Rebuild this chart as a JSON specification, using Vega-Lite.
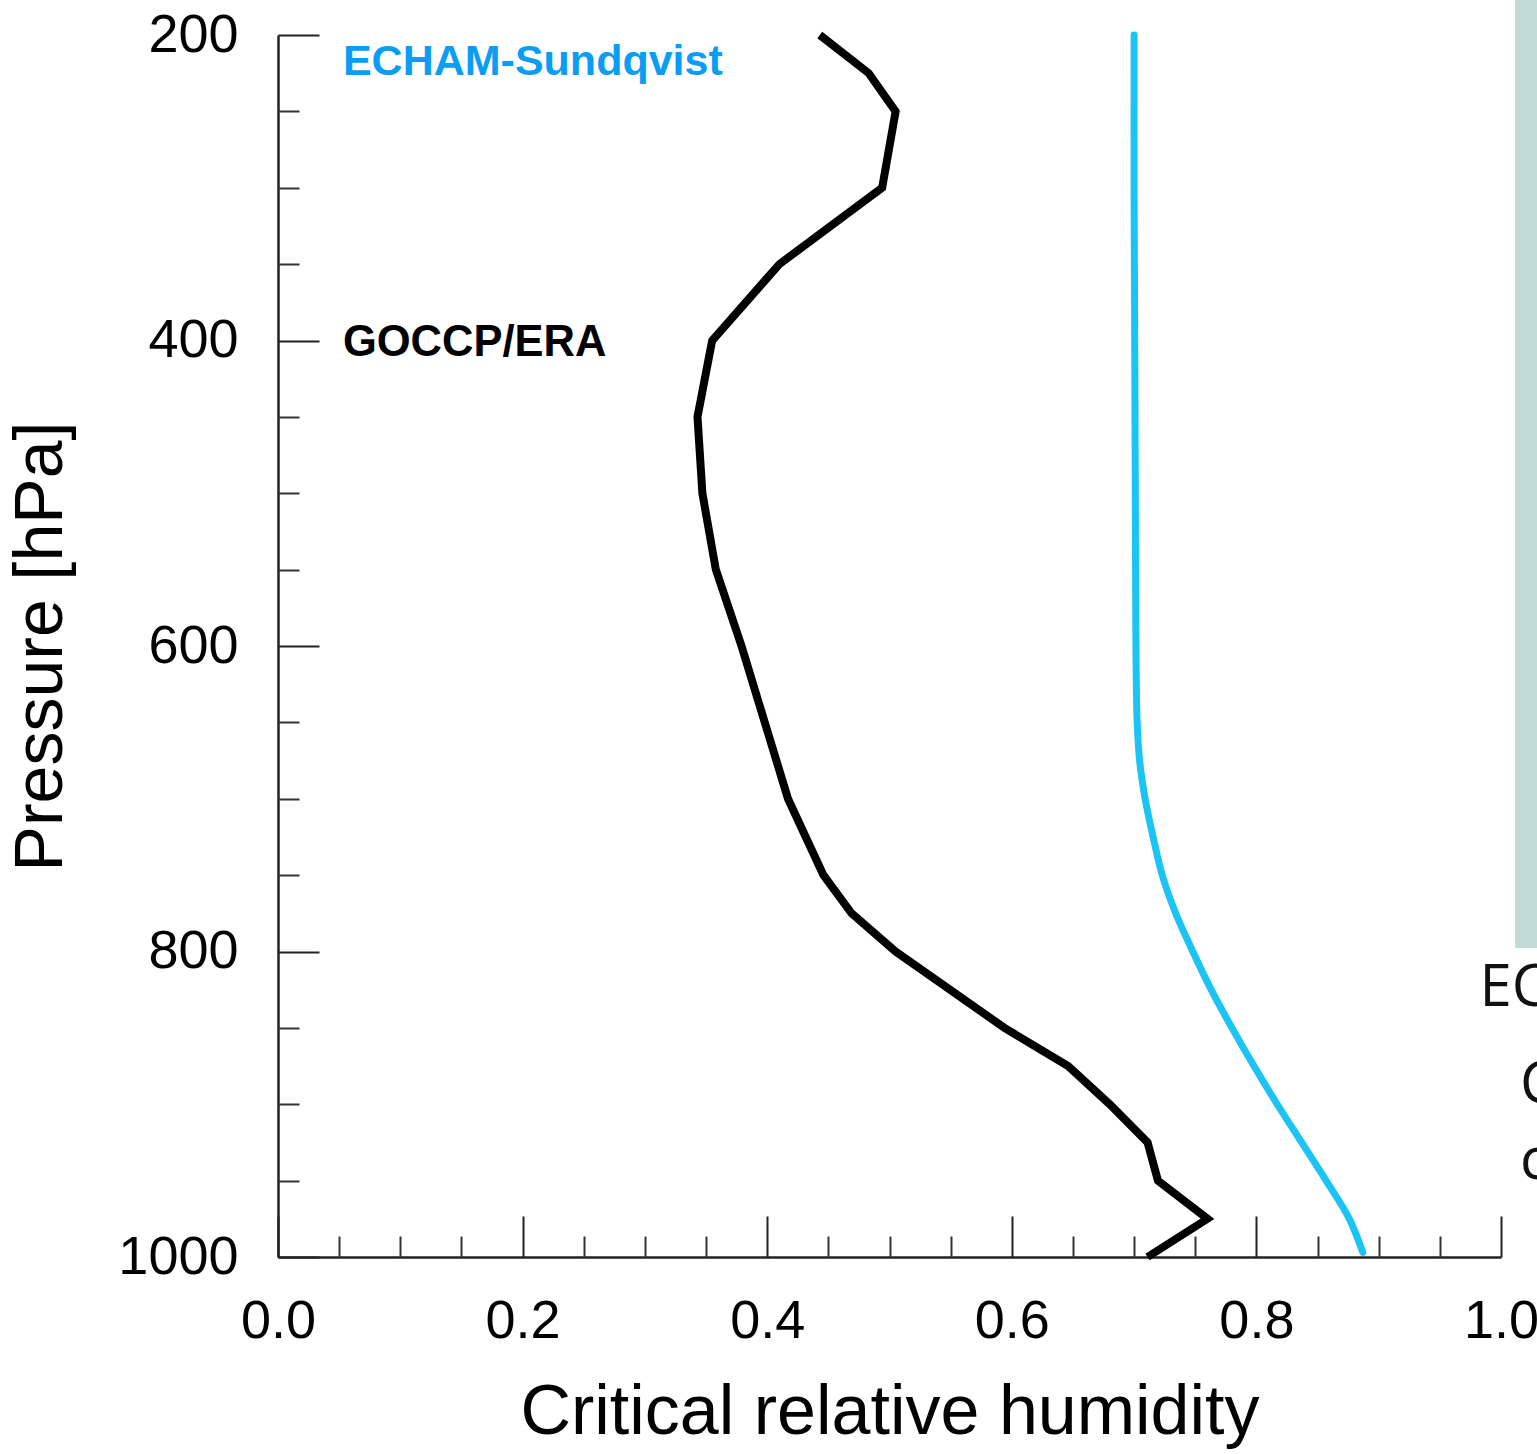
{
  "$schema": "https://vega.github.io/schema/vega-lite/v6.json",
  "width": 1223,
  "height": 1222,
  "autosize": {"type": "none"},
  "padding": {"left": 278, "top": 35, "right": 36, "bottom": 197},
  "background": "white",
  "config": {
    "view": {"stroke": null},
    "font": "Liberation Sans",
    "axis": {"grid": false, "labelFont": "Liberation Sans", "titleFont": "Liberation Sans", "labelColor": "black", "titleColor": "black", "titleFontWeight": "normal"}
  },
  "datasets": {
    "goccp": [
      {"p": 200, "rh": 0.443}, {"p": 225, "rh": 0.483}, {"p": 250, "rh": 0.505},
      {"p": 300, "rh": 0.494}, {"p": 350, "rh": 0.410}, {"p": 400, "rh": 0.355},
      {"p": 450, "rh": 0.343}, {"p": 500, "rh": 0.347}, {"p": 550, "rh": 0.358},
      {"p": 600, "rh": 0.379}, {"p": 650, "rh": 0.398}, {"p": 700, "rh": 0.417},
      {"p": 750, "rh": 0.446}, {"p": 775, "rh": 0.469}, {"p": 800, "rh": 0.505},
      {"p": 850, "rh": 0.594}, {"p": 875, "rh": 0.646}, {"p": 900, "rh": 0.680},
      {"p": 925, "rh": 0.711}, {"p": 950, "rh": 0.7195}, {"p": 975, "rh": 0.760},
      {"p": 1000, "rh": 0.711}
    ],
    "echam": [
      {"p": 200, "rh": 0.700}, {"p": 300, "rh": 0.700}, {"p": 400, "rh": 0.7005},
      {"p": 500, "rh": 0.701}, {"p": 550, "rh": 0.7012}, {"p": 600, "rh": 0.7015},
      {"p": 625, "rh": 0.7018}, {"p": 650, "rh": 0.7025}, {"p": 675, "rh": 0.7045},
      {"p": 700, "rh": 0.709}, {"p": 725, "rh": 0.7155}, {"p": 750, "rh": 0.723},
      {"p": 775, "rh": 0.734}, {"p": 800, "rh": 0.748}, {"p": 825, "rh": 0.763},
      {"p": 850, "rh": 0.780}, {"p": 875, "rh": 0.798}, {"p": 900, "rh": 0.817},
      {"p": 925, "rh": 0.837}, {"p": 950, "rh": 0.857}, {"p": 975, "rh": 0.876},
      {"p": 997, "rh": 0.887}
    ],
    "panel": [{"x1": 1.0115, "x2": 1.06, "p1": 150, "p2": 797.7}],
    "fragments": [
      {"rh": 0.9825, "p": 824.5, "text": "EC"},
      {"rh": 1.0155, "p": 888, "text": "C"},
      {"rh": 1.0155, "p": 937.8, "text": "c"}
    ]
  },
  "resolve": {"axis": {"x": "independent", "y": "independent"}},
  "layer": [
    {
      "data": {"name": "panel"},
      "mark": {"type": "rect", "color": "#c0dbd6", "clip": false},
      "encoding": {
        "x": {"field": "x1", "type": "quantitative", "scale": {"domain": [0, 1]}, "axis": null},
        "x2": {"field": "x2"},
        "y": {"field": "p1", "type": "quantitative", "scale": {"domain": [200, 1000], "reverse": true}, "axis": null},
        "y2": {"field": "p2"}
      }
    },
    {
      "data": {"name": "goccp"},
      "mark": {"type": "line", "color": "black", "strokeWidth": 8, "strokeJoin": "miter", "strokeCap": "butt"},
      "encoding": {
        "x": {
          "field": "rh", "type": "quantitative",
          "scale": {"domain": [0, 1], "nice": false},
          "axis": {
            "orient": "bottom", "values": [0, 0.2, 0.4, 0.6, 0.8, 1.0], "format": ".1f",
            "title": "Critical relative humidity", "titleFontSize": 70, "titlePadding": 30,
            "labelFontSize": 54, "labelPadding": 78, "tickSize": -41, "tickWidth": 2, "tickColor": "#222",
            "domainColor": "#222", "domainWidth": 2.5, "labelFlush": false, "labelOverlap": false
          }
        },
        "y": {
          "field": "p", "type": "quantitative",
          "scale": {"domain": [200, 1000], "reverse": true, "nice": false},
          "axis": {
            "orient": "left", "values": [200, 400, 600, 800, 1000], "format": "d",
            "title": "Pressure [hPa]", "titleFontSize": 68, "titlePadding": 42,
            "labelFontSize": 54, "labelPadding": 81, "tickSize": -41, "tickWidth": 2, "tickColor": "#222",
            "domainColor": "#222", "domainWidth": 2.5, "labelFlush": false, "labelOverlap": false
          }
        },
        "order": {"field": "p", "type": "quantitative"}
      }
    },
    {
      "data": {"name": "echam"},
      "mark": {"type": "line", "color": "#1cc4f6", "strokeWidth": 7, "strokeCap": "round", "interpolate": "catmull-rom"},
      "encoding": {
        "x": {
          "field": "rh", "type": "quantitative",
          "axis": {
            "orient": "bottom",
            "values": [0.05, 0.1, 0.15, 0.25, 0.3, 0.35, 0.45, 0.5, 0.55, 0.65, 0.7, 0.75, 0.85, 0.9, 0.95],
            "labels": false, "title": null, "domain": false,
            "tickSize": -21, "tickWidth": 2, "tickColor": "#333"
          }
        },
        "y": {
          "field": "p", "type": "quantitative",
          "axis": {
            "orient": "left",
            "values": [250, 300, 350, 450, 500, 550, 650, 700, 750, 850, 900, 950],
            "labels": false, "title": null, "domain": false,
            "tickSize": -21, "tickWidth": 2, "tickColor": "#333"
          }
        },
        "order": {"field": "p", "type": "quantitative"}
      }
    },
    {
      "data": {"values": [{"rh": 0.0531, "p": 217.7, "label": "ECHAM-Sundqvist"}]},
      "mark": {"type": "text", "align": "left", "baseline": "middle", "fontSize": 43, "fontWeight": "bold", "font": "Liberation Sans", "color": "#0a9df4"},
      "encoding": {
        "x": {"field": "rh", "type": "quantitative", "axis": null},
        "y": {"field": "p", "type": "quantitative", "axis": null},
        "text": {"field": "label"}
      }
    },
    {
      "data": {"values": [{"rh": 0.0531, "p": 401.6, "label": "GOCCP/ERA"}]},
      "mark": {"type": "text", "align": "left", "baseline": "middle", "fontSize": 43.5, "fontWeight": "bold", "font": "Liberation Sans", "color": "black"},
      "encoding": {
        "x": {"field": "rh", "type": "quantitative", "axis": null},
        "y": {"field": "p", "type": "quantitative", "axis": null},
        "text": {"field": "label"}
      }
    },
    {
      "data": {"name": "fragments"},
      "mark": {"type": "text", "align": "left", "baseline": "middle", "fontSize": 58, "font": "Open Sans", "color": "#111", "clip": false},
      "encoding": {
        "x": {"field": "rh", "type": "quantitative", "axis": null},
        "y": {"field": "p", "type": "quantitative", "axis": null},
        "text": {"field": "text"}
      }
    }
  ]
}
